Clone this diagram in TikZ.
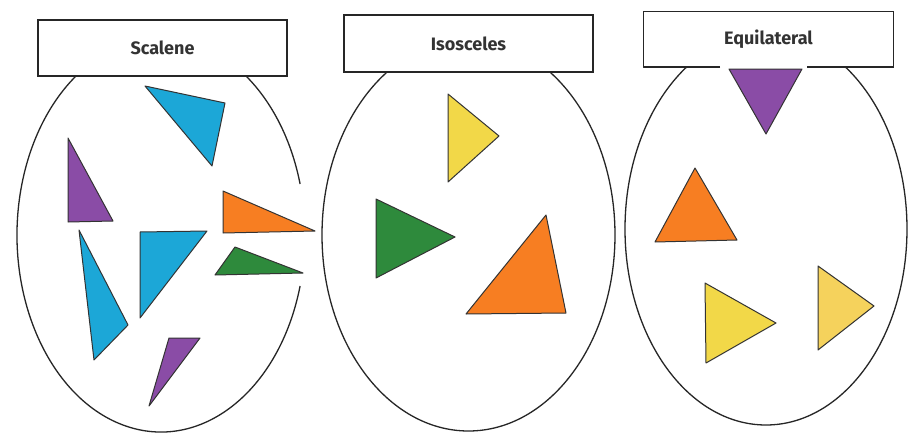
\documentclass[tikz,border=0pt]{standalone}
\usepackage{fontspec}
\setmainfont{Fira Sans}
\begin{document}
\begin{tikzpicture}[x=1pt,y=-1pt,
  ring/.style={draw=black!85,line width=1.3pt},
  labbox/.style={draw=black!85,line width=1.3pt,fill=white,inner sep=0pt,font=\fontsize{18}{20}\selectfont\bfseries,text=black!80},
  tri/.style={draw=black!80,line width=1pt,line join=round}]
\definecolor{cblue}{HTML}{1CA7D7}
\definecolor{cpurple}{HTML}{8A4CA6}
\definecolor{corange}{HTML}{F77E22}
\definecolor{cgreen}{HTML}{2E8A3C}
\definecolor{cyellow}{HTML}{F2D848}
\definecolor{cyellowb}{HTML}{F5D25C}
\fill[white] (0,0) rectangle (922,434);
\useasboundingbox (0,0) rectangle (922,434);
% ellipses
\draw[ring] (161,235) ++(15:144 and 197) arc[start angle=15,end angle=345,x radius=144,y radius=197];
\draw[ring] (468.5,235) ellipse[x radius=146.5,y radius=196];
\draw[ring] (766,229) ellipse[x radius=141,y radius=196];
% label boxes
\node[labbox,minimum width=249pt,minimum height=56pt] (sc) at (162.5,48) {Scalene};
\node[labbox,minimum width=249pt,minimum height=57pt] (is) at (468.5,43.5) {Isosceles};
\node[labbox,draw=none,minimum width=249pt,minimum height=55pt] (eq) at (768.5,39.5) {Equilateral};
\draw[black!85,line width=1.3pt] (720,67) -| (eq.south west) |- (eq.north east) |- (807,67);
% scalene triangles
\filldraw[tri,fill=cblue] (145,86) -- (225,103) -- (212,166) -- cycle;
\filldraw[tri,fill=cpurple] (68,138) -- (68,222) -- (113,221) -- cycle;
\filldraw[tri,fill=corange] (223,191) -- (223,233) -- (315,231) -- cycle;
\filldraw[tri,fill=cgreen] (235,247) -- (215,275) -- (303,273) -- cycle;
\filldraw[tri,fill=cblue] (140,232) -- (207,231) -- (140,318) -- cycle;
\filldraw[tri,fill=cblue] (79,230) -- (128,325) -- (94,360) -- cycle;
\filldraw[tri,fill=cpurple] (169,338) -- (200,338) -- (149,406) -- cycle;
% isosceles triangles
\filldraw[tri,fill=cyellow] (448,94) -- (499,136) -- (448,182) -- cycle;
\filldraw[tri,fill=cgreen] (376,199) -- (455,237) -- (376,278) -- cycle;
\filldraw[tri,fill=corange] (546,215) -- (566,313) -- (466,314) -- cycle;
% equilateral triangles
\filldraw[tri,fill=cpurple] (729,69) -- (802,69) -- (766,134) -- cycle;
\filldraw[tri,fill=corange] (695,168) -- (737,240) -- (655,242) -- cycle;
\filldraw[tri,fill=cyellow] (705,283) -- (776,323) -- (706,363) -- cycle;
\filldraw[tri,fill=cyellowb] (818,266) -- (874,306) -- (818,350) -- cycle;
\end{tikzpicture}
\end{document}
